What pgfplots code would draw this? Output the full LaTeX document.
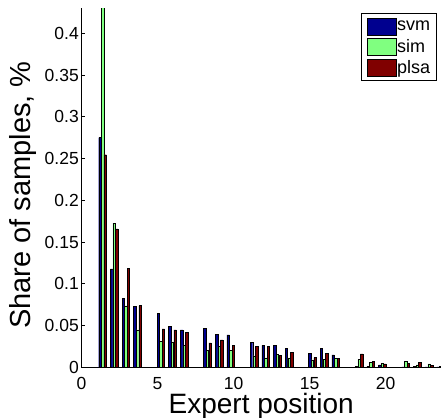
\documentclass[border=0pt]{standalone}
\usepackage{fontspec}
\setmainfont{Liberation Sans}
\usepackage{pgfplots}
\pgfplotsset{compat=1.18}
\definecolor{svmc}{rgb}{0,0,0.5625}
\definecolor{simc}{rgb}{0.5,1,0.5}
\definecolor{plsac}{rgb}{0.5,0,0}
\pgfplotstableread{
x svm sim plsa
1.3833 0.275 0.47 0.2546
2.15 0.118 0.1727 0.1658
2.9167 0.0827 0.0735 0.1187
3.6833 0.0727 0.0447 0.0739
5.2167 0.0647 0.0307 0.0459
5.9833 0.0487 0.0303 0.0447
6.75 0.0447 0.0264 0.0415
8.2833 0.0463 0.0204 0.0291
9.05 0.0396 0.0252 0.0327
9.8167 0.0387 0.0204 0.0259
11.35 0.030 0.0136 0.0247
12.1167 0.0264 0.0112 0.0255
12.8833 0.0267 0.0156 0.0147
13.65 0.0228 0.0112 0.0175
15.1833 0.0163 0.0088 0.0115
15.95 0.0228 0.0096 0.0163
16.7167 0.015 0.011 0.011
18.25 0.001 0.0096 0.016
19.0167 0.001 0.0056 0.0075
19.7833 0.003 0.005 0.004
21.3167 0.0005 0.0075 0.0048
22.0833 0.001 0.003 0.006
22.85 0.0005 0.004 0.0025
23.6167 0.0005 0.0015 0.001
}\datatable
\begin{document}
\begin{tikzpicture}
\begin{axis}[
  scale only axis,
  width=359.5pt, height=359pt,
  xmin=0, xmax=23.64, ymin=0, ymax=0.43,
  axis x line*=bottom, axis y line*=left,
  axis line style={line width=0.8pt, black},
  xtick={0,5,10,15,20},
  ytick={0,0.05,0.1,0.15,0.2,0.25,0.3,0.35,0.4},
  yticklabel style={/pgf/number format/fixed, /pgf/number format/precision=2},
  /pgf/number format/assume math mode=true,
  tick align=inside, major tick length=3.5pt,
  tick style={line width=0.8pt, black},
  every tick label/.append style={font=\fontsize{17.5}{20}\selectfont, inner sep=0pt},
  every x tick label/.append style={yshift=-9.5pt},
  every y tick label/.append style={xshift=-2.5pt},
  xlabel={Expert position},
  ylabel={Share of samples, \%},
  label style={inner sep=0pt},
  xlabel style={font=\fontsize{28}{32}\selectfont, at={(axis description cs:0.5,0)}, anchor=base, yshift=-46.2pt},
  ylabel style={font=\fontsize{29}{32}\selectfont, at={(axis description cs:-0.1419,0.48)}, anchor=base},
  legend image code/.code={\draw[#1] (0pt,-8.5pt) rectangle (29pt,8.5pt);},
  legend style={at={(rel axis cs:0.9889,0.9869)}, anchor=north east,
    font=\fontsize{18}{20}\selectfont, draw=black, line width=0.6pt,
    inner xsep=6pt, inner ysep=4.5pt, row sep=3pt,
    nodes={inner sep=0.5pt}, cells={anchor=west},
    /tikz/every even column/.append style={column sep=2pt}},
]
\addplot[ybar, bar width=0.16, bar shift=-0.17, fill=svmc, draw=black, line width=0.45pt] table[x=x, y=svm] {\datatable};
\addplot[ybar, bar width=0.16, bar shift=0, fill=simc, draw=black, line width=0.45pt] table[x=x, y=sim] {\datatable};
\addplot[ybar, bar width=0.16, bar shift=0.17, fill=plsac, draw=black, line width=0.45pt] table[x=x, y=plsa] {\datatable};
\legend{svm, sim, plsa}
\end{axis}
\pgfresetboundingbox
\path[use as bounding box] ([xshift=-81.5pt,yshift=-50.7pt]current axis.south west) rectangle ([yshift=8.3pt]current axis.north east);
\end{tikzpicture}
\end{document}
